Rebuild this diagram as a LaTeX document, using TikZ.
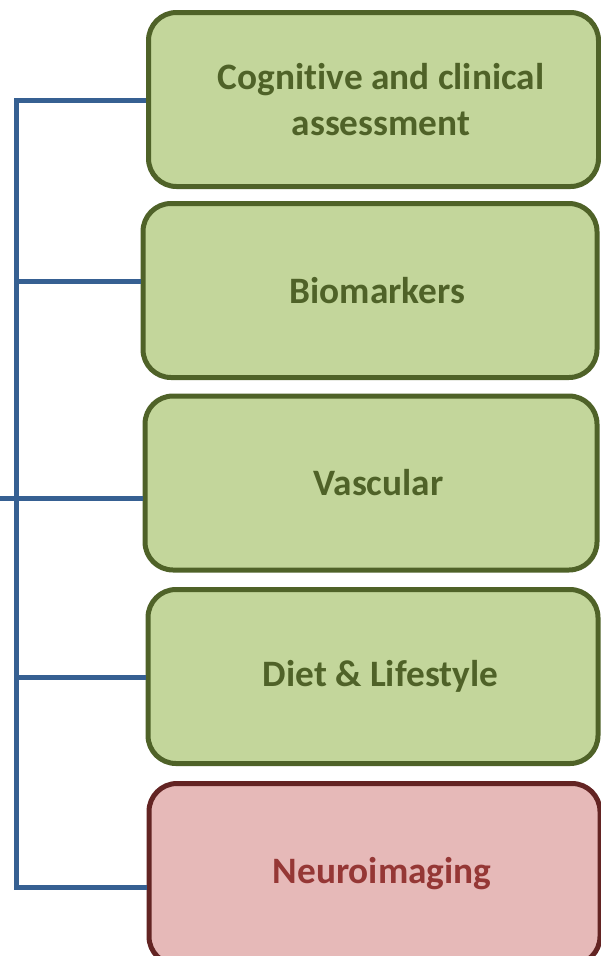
\documentclass[tikz,border=0pt]{standalone}
\usepackage{fontspec}
\setmainfont{Carlito}[Ligatures=NoCommon]
\definecolor{gfill}{HTML}{C3D69B}
\definecolor{gline}{HTML}{4F6228}
\definecolor{rfill}{HTML}{E6B9B8}
\definecolor{rline}{HTML}{632423}
\definecolor{rtext}{HTML}{953735}
\definecolor{conn}{HTML}{366092}
\newcommand{\sh}{\hspace*{15pt}}
\begin{document}
\begin{tikzpicture}[x=1pt,y=-1pt,
  gbox/.style={draw=gline, fill=gfill, line width=5pt, rounded corners=28pt,
    minimum width=450pt, minimum height=174pt, inner sep=0pt,
    text=gline, font=\fontsize{37.3}{46}\selectfont\bfseries, align=center},
  rbox/.style={gbox, draw=rline, fill=rfill, text=rtext},
  wire/.style={draw=conn, line width=5pt}]
\useasboundingbox (0,0) rectangle (600,956);
\node[gbox] (b1) at (373.5,99.5) {\sh Cognitive and clinical\\\sh assessment};
\node[gbox, minimum width=454pt] (b2) at (370,290.5) {\sh Biomarkers};
\node[gbox, minimum width=452pt] (b3) at (371,483) {\sh Vascular};
\node[gbox] (b4) at (373,676.5) {\sh Diet \& Lifestyle};
\node[rbox, minimum width=451pt, minimum height=181pt] (b5) at (374.5,874) {\sh Neuroimaging};
\coordinate (top) at (16.5,100);
\coordinate (bot) at (16.5,887.5);
\coordinate (stub) at (0,498);
\draw[wire] (b1.west |- top) -- (top) -- (bot) -- (b5.west |- bot);
\draw[wire] (b2.west |- 0,281) -- (top |- 0,281);
\draw[wire] (b3.west |- stub) -- (stub);
\draw[wire] (b4.west |- 0,677) -- (top |- 0,677);
\end{tikzpicture}
\end{document}
